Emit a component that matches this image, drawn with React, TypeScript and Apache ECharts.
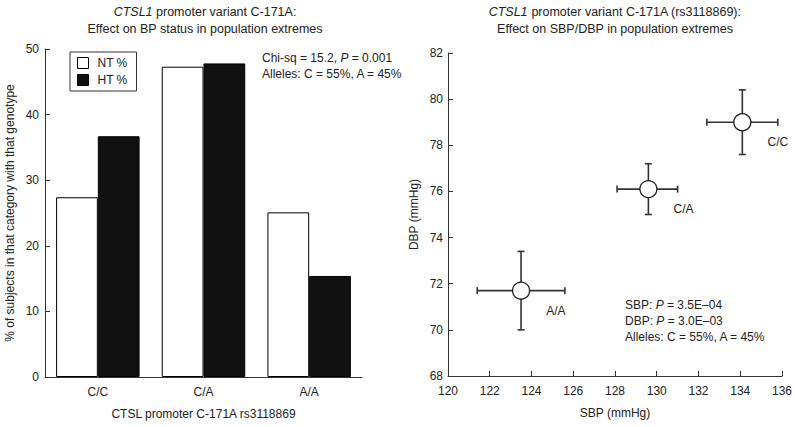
import React, { useEffect, useRef } from "react";
import * as echarts from "echarts";

const genotypes = ["C/C", "C/A", "A/A"];
const ntPercent = [27.4, 47.3, 25.1];
const htPercent = [36.7, 47.8, 15.4];
const barTicks = { min: 0, max: 50, interval: 10 };

const pointLabels = ["A/A", "C/A", "C/C"];
const sbpMean = [123.5, 129.6, 134.1];
const sbpLow = [121.4, 128.1, 132.4];
const sbpHigh = [125.6, 131.0, 135.8];
const dbpMean = [71.7, 76.1, 79.0];
const dbpLow = [70.0, 75.0, 77.6];
const dbpHigh = [73.4, 77.2, 80.4];
const sbpTicks = { min: 120, max: 136, interval: 2 };
const dbpTicks = { min: 68, max: 82, interval: 2 };

const FONT = "'Liberation Sans', Arial, Helvetica, sans-serif";
const INK = "#222";

export default function App() {
  const ref = useRef<HTMLDivElement>(null);
  useEffect(() => {
    if (!ref.current) return;
    const chart = echarts.init(ref.current, null, { renderer: "svg" });
    const errData = sbpMean.map((x, i) => [x, dbpMean[i], sbpLow[i], sbpHigh[i], dbpLow[i], dbpHigh[i]]);
    const ptData = sbpMean.map((x, i) => ({ value: [x, dbpMean[i]], name: pointLabels[i] }));
    const axisLabel = { color: INK, fontSize: 12, fontFamily: FONT };
    const nameStyle = { color: INK, fontSize: 12, fontFamily: FONT };
    const lineStyle = { color: "#333", width: 1 };
    const option: any = {
      animation: false,
      textStyle: { fontFamily: FONT },
      grid: [
        { left: 45, top: 49, width: 317, height: 328 },
        { left: 448, top: 53, width: 334, height: 323 },
      ],
      legend: {
        left: 70,
        top: 52,
        orient: "vertical",
        borderColor: "#333",
        borderWidth: 1,
        borderRadius: 0,
        padding: [5, 9, 5, 7],
        itemGap: 5,
        itemWidth: 11,
        itemHeight: 11,
        icon: "rect",
        textStyle: { color: INK, fontSize: 12, fontFamily: FONT, padding: [0, 0, 0, 4] },
        data: [
          { name: "NT %", itemStyle: { color: "#fff", borderColor: "#000", borderWidth: 1 } },
          { name: "HT %", itemStyle: { color: "#111", borderColor: "#000", borderWidth: 1 } },
        ],
      },
      xAxis: [
        {
          type: "category",
          gridIndex: 0,
          data: genotypes,
          name: "CTSL promoter C-171A rs3118869",
          nameLocation: "middle",
          nameGap: 31,
          nameTextStyle: nameStyle,
          axisLine: { lineStyle },
          axisTick: { inside: true, length: 4, lineStyle },
          axisLabel: { ...axisLabel, margin: 9 },
          splitLine: { show: false },
        },
        {
          type: "value",
          gridIndex: 1,
          ...sbpTicks,
          name: "SBP (mmHg)",
          nameLocation: "middle",
          nameGap: 31,
          nameTextStyle: nameStyle,
          axisLine: { lineStyle },
          axisTick: { inside: true, length: 5, lineStyle },
          axisLabel: { ...axisLabel, margin: 9 },
          splitLine: { show: false },
        },
      ],
      yAxis: [
        {
          type: "value",
          gridIndex: 0,
          ...barTicks,
          name: "% of subjects in that category with that genotype",
          nameLocation: "middle",
          nameGap: 29,
          nameTextStyle: nameStyle,
          axisLine: { show: true, lineStyle },
          axisTick: { show: true, inside: true, length: 5, lineStyle },
          axisLabel: { ...axisLabel, margin: 6 },
          splitLine: { show: false },
        },
        {
          type: "value",
          gridIndex: 1,
          ...dbpTicks,
          name: "DBP (mmHg)",
          nameLocation: "middle",
          nameGap: 28,
          nameTextStyle: nameStyle,
          axisLine: { show: true, lineStyle },
          axisTick: { show: true, inside: true, length: 5, lineStyle },
          axisLabel: { ...axisLabel, margin: 5 },
          splitLine: { show: false },
        },
      ],
      series: [
        {
          name: "NT %",
          type: "bar",
          xAxisIndex: 0,
          yAxisIndex: 0,
          data: ntPercent,
          barGap: "0%",
          barCategoryGap: "21%",
          itemStyle: { color: "#fff", borderColor: "#000", borderWidth: 1 },
        },
        {
          name: "HT %",
          type: "bar",
          xAxisIndex: 0,
          yAxisIndex: 0,
          data: htPercent,
          barGap: "0%",
          barCategoryGap: "21%",
          itemStyle: { color: "#111", borderColor: "#000", borderWidth: 1 },
        },
        {
          type: "custom",
          xAxisIndex: 1,
          yAxisIndex: 1,
          data: errData,
          encode: { x: 0, y: 1 },
          z: 2,
          renderItem: (params: any, api: any) => {
            const x = api.value(0), y = api.value(1);
            const xl = api.value(2), xh = api.value(3), yl = api.value(4), yh = api.value(5);
            const pL = api.coord([xl, y]);
            const pH = api.coord([xh, y]);
            const pB = api.coord([x, yl]);
            const pT = api.coord([x, yh]);
            const c = 3.5;
            const st = { stroke: "#333", lineWidth: 1.6 };
            const ln = (x1: number, y1: number, x2: number, y2: number) => ({
              type: "line",
              shape: { x1, y1, x2, y2 },
              style: st,
            });
            return {
              type: "group",
              children: [
                ln(pL[0], pL[1], pH[0], pH[1]),
                ln(pB[0], pB[1], pT[0], pT[1]),
                ln(pL[0], pL[1] - c, pL[0], pL[1] + c),
                ln(pH[0], pH[1] - c, pH[0], pH[1] + c),
                ln(pB[0] - c, pB[1], pB[0] + c, pB[1]),
                ln(pT[0] - c, pT[1], pT[0] + c, pT[1]),
              ],
            };
          },
        },
        {
          type: "scatter",
          xAxisIndex: 1,
          yAxisIndex: 1,
          data: ptData,
          z: 5,
          symbol: "circle",
          symbolSize: 17,
          itemStyle: { color: "#fff", borderColor: "#222", borderWidth: 1.3, opacity: 1 },
          label: {
            show: true,
            position: "right",
            distance: 0,
            offset: [16, 20],
            formatter: (p: any) => p.name,
            color: INK,
            fontSize: 12,
            fontFamily: FONT,
          },
          emphasis: { disabled: true },
        },
      ],
      graphic: [
        {
          type: "text",
          x: 205,
          y: 3,
          style: {
            text: "{i|CTSL1} promoter variant C-171A:\nEffect on BP status in population extremes",
            textAlign: "center",
            fill: INK,
            font: `12.5px ${FONT}`,
            lineHeight: 17,
            rich: { i: { fontStyle: "italic", fontSize: 12.5, fontFamily: FONT, fill: INK } },
          },
        },
        {
          type: "text",
          x: 615,
          y: 3,
          style: {
            text: "{i|CTSL1} promoter variant C-171A (rs3118869):\nEffect on SBP/DBP in population extremes",
            textAlign: "center",
            fill: INK,
            font: `12.5px ${FONT}`,
            lineHeight: 17,
            rich: { i: { fontStyle: "italic", fontSize: 12.5, fontFamily: FONT, fill: INK } },
          },
        },
        {
          type: "text",
          x: 262,
          y: 50,
          style: {
            text: "Chi-sq = 15.2, {i|P} = 0.001\nAlleles: C = 55%, A = 45%",
            fill: INK,
            font: `12px ${FONT}`,
            lineHeight: 16,
            rich: { i: { fontStyle: "italic", fontSize: 12, fontFamily: FONT, fill: INK } },
          },
        },
        {
          type: "text",
          x: 625,
          y: 297,
          style: {
            text: "SBP: {i|P} = 3.5E\u201304\nDBP: {i|P} = 3.0E\u201303\nAlleles: C = 55%, A = 45%",
            fill: INK,
            font: `12px ${FONT}`,
            lineHeight: 16,
            rich: { i: { fontStyle: "italic", fontSize: 12, fontFamily: FONT, fill: INK } },
          },
        },
      ],
    };
    chart.setOption(option);
    return () => chart.dispose();
  }, []);
  return <div ref={ref} style={{ width: 795, height: 427, position: "absolute", left: 0, top: 0 }} />;
}
